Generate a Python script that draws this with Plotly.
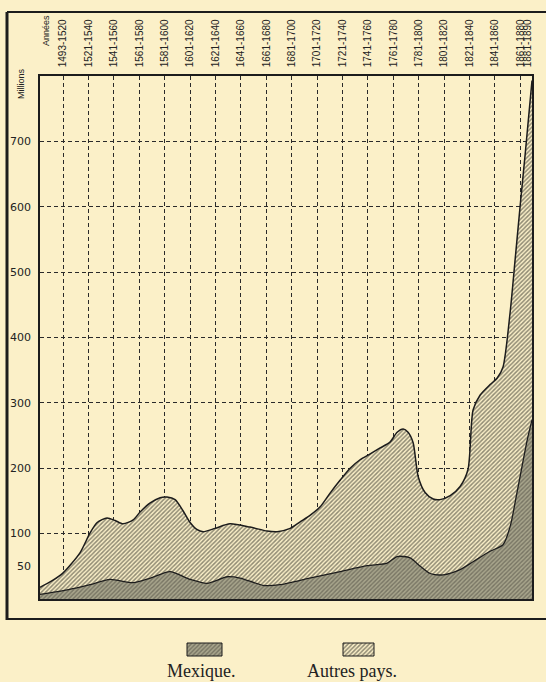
import plotly.graph_objects as go

W, H = 546, 682
BG = "#fbf0c8"
INK = "#1c1c1c"

# Périodes (axe des abscisses, en haut)
periodes = ["1493-1520", "1521-1540", "1541-1560", "1561-1580", "1581-1600",
            "1601-1620", "1621-1640", "1641-1660", "1661-1680", "1681-1700",
            "1701-1720", "1721-1740", "1741-1760", "1761-1780", "1781-1800",
            "1801-1820", "1821-1840", "1841-1860", "1861-1880", "1881-1890"]
pos_periodes = list(range(19)) + [18.3]

# Production totale (Mexique + autres pays), en millions
t_total = [-0.91, -0.43, 0.0, 0.67, 1.06, 1.34, 1.73, 2.05, 2.36, 2.76, 3.03,
           3.43, 3.82, 4.09, 4.41, 4.72, 5.0, 5.28, 5.51, 5.98, 6.57, 7.36,
           8.03, 8.43, 8.94, 9.33, 9.72, 10.12, 10.51, 10.91, 11.3, 11.69,
           12.09, 12.48, 12.87, 13.15, 13.39, 13.58, 13.78, 13.98, 14.25,
           14.57, 14.84, 15.24, 15.63, 15.94, 16.14, 16.42, 16.81, 17.09,
           17.32, 17.6, 17.8, 17.99, 18.19, 18.46]
v_total = [18, 28, 40, 71, 101, 117, 124, 120, 115, 121, 133,
           147, 155, 156, 152, 135, 117, 106, 103, 108, 115, 110,
           104, 103, 108, 118, 128, 141, 162, 182, 200, 213,
           222, 231, 240, 255, 260, 255, 239, 187, 163,
           153, 152, 158, 172, 198, 289, 312, 328, 338,
           355, 439, 521, 600, 680, 793]

# Part du Mexique, en millions
t_mex = [-0.91, 0.16, 1.06, 1.85, 2.76, 3.43, 4.21, 5.0, 5.67, 6.46, 6.97,
         7.87, 8.54, 9.61, 10.91, 11.97, 12.76, 13.15, 13.66, 14.06, 14.45,
         14.96, 15.63, 16.14, 16.81, 17.32, 17.6, 17.87, 18.27, 18.46]
v_mex = [7, 14, 22, 30, 25, 32, 42, 30, 24, 34, 32,
         21, 22, 31, 42, 51, 55, 65, 63, 50, 39,
         37, 45, 57, 73, 83, 111, 163, 243, 274]

y_labels = [50, 100, 200, 300, 400, 500, 600, 700]
y_grid = [100, 200, 300, 400, 500, 600, 700]

hatch_mex = dict(shape="/", fgcolor="#45443a", bgcolor="#a8a58c", size=3, solidity=0.45)
hatch_autres = dict(shape="/", fgcolor="#262620", bgcolor=BG, size=3, solidity=0.5)

fig = go.Figure()
fig.add_trace(go.Scatter(
    x=t_mex, y=v_mex, mode="lines", name="Mexique.",
    line=dict(color=INK, width=1.3, shape="spline", smoothing=0.7),
    fill="tozeroy", fillpattern=hatch_mex, showlegend=False, hoverinfo="skip"))
fig.add_trace(go.Scatter(
    x=t_total, y=v_total, mode="lines", name="Autres pays.",
    line=dict(color=INK, width=1.5, shape="spline", smoothing=0.7),
    fill="tonexty", fillpattern=hatch_autres, showlegend=False, hoverinfo="skip"))

# Swatches of the key, drawn in a small pixel-scaled subplot under the chart
swatches = [("Mexique.", 187, 222, hatch_mex), ("Autres pays.", 343, 374, hatch_autres)]
for name, x0, x1, patt in swatches:
    fig.add_trace(go.Scatter(
        x=[x0, x1, x1, x0, x0], y=[643, 643, 656, 656, 643],
        xaxis="x2", yaxis="y2", mode="lines", fill="toself",
        line=dict(color=INK, width=1), fillpattern=patt,
        showlegend=False, hoverinfo="skip"))

grid = dict(showgrid=True, griddash="4px,3px", gridcolor="#2a2a2a", gridwidth=1, ticks="")

fig.update_layout(
    width=W, height=H,
    margin=dict(l=0, r=0, t=0, b=0),
    paper_bgcolor=BG, plot_bgcolor=BG,
    xaxis=dict(
        domain=[40 / W, 532 / W], range=[-0.91, 18.46], side="top",
        tickmode="array", tickvals=pos_periodes, ticktext=periodes,
        tickangle=-90, tickfont=dict(family="Liberation Sans", size=10, color="#222"),
        ticks="", showgrid=False, zeroline=False,
        minor=dict(tickmode="array", tickvals=list(range(19)), **grid),
        showline=True, mirror=True, linecolor=INK, linewidth=1.5,
        ticklabelstandoff=5, anchor="y"),
    yaxis=dict(
        domain=[83 / H, 606 / H], range=[0, 800],
        tickmode="array", tickvals=y_labels,
        tickfont=dict(family="DejaVu Sans", size=11, color="#222"),
        ticks="", showgrid=False, zeroline=False,
        minor=dict(tickmode="array", tickvals=y_grid, **grid),
        showline=True, mirror=True, linecolor=INK, linewidth=1.5,
        ticklabelstandoff=5, anchor="x"),
    xaxis2=dict(domain=[0, 1], range=[0, W], visible=False, anchor="y2"),
    yaxis2=dict(domain=[22 / H, 42 / H], range=[660, 640], visible=False, anchor="x2"),
    annotations=[
        dict(text="Millions", x=21 / W, y=1 - 84 / H, xref="paper", yref="paper",
             textangle=-90, showarrow=False, xanchor="center", yanchor="middle",
             font=dict(family="Liberation Sans", size=9, color="#222")),
        dict(text="Années", x=46 / W, y=1 - 31 / H, xref="paper", yref="paper",
             textangle=-90, showarrow=False, xanchor="center", yanchor="middle",
             font=dict(family="Liberation Sans", size=9, color="#222")),
        dict(text="Mexique.", x=201 / W, y=1 - 671 / H, xref="paper", yref="paper",
             showarrow=False, xanchor="center", yanchor="middle",
             font=dict(family="Liberation Serif", size=18, color="#222")),
        dict(text="Autres pays.", x=352 / W, y=1 - 671 / H, xref="paper", yref="paper",
             showarrow=False, xanchor="center", yanchor="middle",
             font=dict(family="Liberation Serif", size=18, color="#222")),
    ],
    shapes=[
        dict(type="line", xref="paper", yref="paper", x0=7 / W, x1=7 / W,
             y0=1 - 12 / H, y1=1 - 620 / H, line=dict(color=INK, width=3)),
        dict(type="line", xref="paper", yref="paper", x0=7 / W, x1=1,
             y0=1 - 12 / H, y1=1 - 12 / H, line=dict(color=INK, width=2)),
        dict(type="line", xref="paper", yref="paper", x0=7 / W, x1=1,
             y0=1 - 619 / H, y1=1 - 619 / H, line=dict(color=INK, width=2)),
    ],
)

fig.write_html("out.html")
